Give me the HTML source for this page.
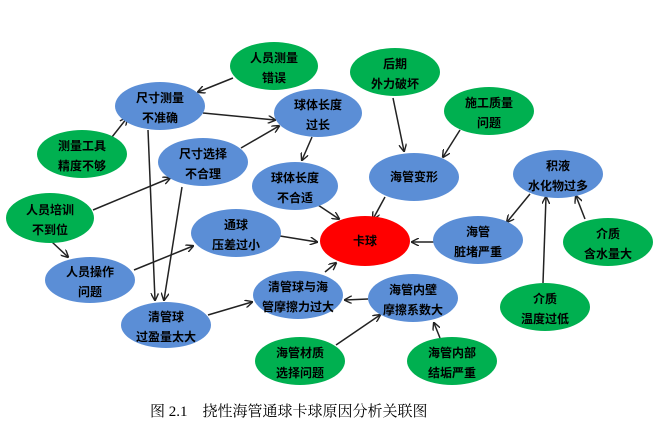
<!DOCTYPE html>
<html><head><meta charset="utf-8"><style>
html,body{margin:0;padding:0;background:#fff;width:666px;height:434px;overflow:hidden}
svg{display:block}
text{font-family:"Liberation Sans","Noto Sans CJK SC",sans-serif;font-size:12px;font-weight:bold;fill:#000;text-anchor:middle}
.c{font-family:"Liberation Serif","Noto Serif CJK SC",serif;font-size:15px;font-weight:normal;text-anchor:start}
</style></head><body>
<svg width="666" height="434" viewBox="0 0 666 434">
<defs><marker id="a" markerWidth="8" markerHeight="8" refX="7" refY="4" orient="auto" markerUnits="userSpaceOnUse"><path d="M0,0 L8,4 L0,8" fill="none" stroke="#222" stroke-width="1.4"/></marker></defs>
<g stroke="#222" stroke-width="1.5" marker-end="url(#a)">
<line x1="233" y1="78" x2="198" y2="92"/>
<line x1="112" y1="137" x2="127" y2="118"/>
<line x1="203" y1="113" x2="275" y2="120"/>
<line x1="241" y1="148" x2="279" y2="126"/>
<line x1="93" y1="210" x2="170" y2="178"/>
<line x1="312" y1="137" x2="302" y2="160"/>
<line x1="148" y1="130" x2="155" y2="300"/>
<line x1="182" y1="187" x2="164" y2="300"/>
<line x1="52" y1="242" x2="68" y2="257"/>
<line x1="134" y1="270" x2="193" y2="246"/>
<line x1="280" y1="236" x2="317" y2="242"/>
<line x1="318" y1="205" x2="339" y2="219"/>
<line x1="385" y1="197" x2="373" y2="219"/>
<line x1="434" y1="242" x2="412" y2="242"/>
<line x1="530" y1="194" x2="507" y2="222"/>
<line x1="543" y1="283" x2="546" y2="197"/>
<line x1="585" y1="219" x2="576" y2="196"/>
<line x1="393" y1="98" x2="404" y2="151"/>
<line x1="460" y1="130" x2="443" y2="157"/>
<line x1="325" y1="272" x2="336" y2="263"/>
<line x1="208" y1="315" x2="252" y2="302"/>
<line x1="368" y1="299" x2="345" y2="300"/>
<line x1="336" y1="345" x2="380" y2="315"/>
<line x1="440" y1="338" x2="434" y2="323"/>
</g>
<g fill="#00b050">
<ellipse cx="274" cy="66" rx="44" ry="24"/>
<ellipse cx="82" cy="154" rx="45" ry="24"/>
<ellipse cx="50" cy="218" rx="44" ry="25"/>
<ellipse cx="395" cy="72" rx="45" ry="24"/>
<ellipse cx="489" cy="111" rx="45" ry="24"/>
<ellipse cx="608" cy="242" rx="45" ry="24"/>
<ellipse cx="545" cy="307" rx="45" ry="24"/>
<ellipse cx="300" cy="361" rx="45" ry="24"/>
<ellipse cx="452" cy="361" rx="45" ry="24"/>
</g>
<g fill="#5b8ed6">
<ellipse cx="160" cy="106" rx="45" ry="24"/>
<ellipse cx="318" cy="113" rx="44" ry="24"/>
<ellipse cx="203" cy="162" rx="45" ry="24"/>
<ellipse cx="295" cy="186" rx="43" ry="24"/>
<ellipse cx="236" cy="233" rx="45" ry="24"/>
<ellipse cx="414" cy="177" rx="45" ry="24"/>
<ellipse cx="558" cy="174" rx="45" ry="24"/>
<ellipse cx="478" cy="240" rx="45" ry="24"/>
<ellipse cx="90" cy="280" rx="45" ry="23"/>
<ellipse cx="166" cy="325" rx="45" ry="23"/>
<ellipse cx="298" cy="295" rx="45" ry="24"/>
<ellipse cx="413" cy="298" rx="45" ry="24"/>
</g>
<ellipse cx="365" cy="241" rx="45" ry="25" fill="#ff0000"/>
<text x="274" y="62">人员测量</text><text x="274" y="82">错误</text>
<text x="82" y="150">测量工具</text><text x="82" y="170">精度不够</text>
<text x="50" y="214">人员培训</text><text x="50" y="234">不到位</text>
<text x="395" y="68">后期</text><text x="395" y="88">外力破坏</text>
<text x="489" y="107">施工质量</text><text x="489" y="127">问题</text>
<text x="608" y="238">介质</text><text x="608" y="258">含水量大</text>
<text x="545" y="303">介质</text><text x="545" y="323">温度过低</text>
<text x="300" y="357">海管材质</text><text x="300" y="377">选择问题</text>
<text x="452" y="357">海管内部</text><text x="452" y="377">结垢严重</text>
<text x="160" y="102">尺寸测量</text><text x="160" y="122">不准确</text>
<text x="318" y="109">球体长度</text><text x="318" y="129">过长</text>
<text x="203" y="158">尺寸选择</text><text x="203" y="178">不合理</text>
<text x="295" y="182">球体长度</text><text x="295" y="202">不合适</text>
<text x="236" y="229">通球</text><text x="236" y="249">压差过小</text>
<text x="414" y="181">海管变形</text>
<text x="558" y="170">积液</text><text x="558" y="190">水化物过多</text>
<text x="478" y="236">海管</text><text x="478" y="256">脏堵严重</text>
<text x="90" y="276">人员操作</text><text x="90" y="296">问题</text>
<text x="166" y="321">清管球</text><text x="166" y="341">过盈量太大</text>
<text x="298" y="291">清管球与海</text><text x="298" y="311">管摩擦力过大</text>
<text x="413" y="294">海管内壁</text><text x="413" y="314">摩擦系数大</text>
<text x="365" y="245">卡球</text>
<text class="c" x="150" y="416">图 2.1　挠性海管通球卡球原因分析关联图</text>
</svg>
</body></html>
